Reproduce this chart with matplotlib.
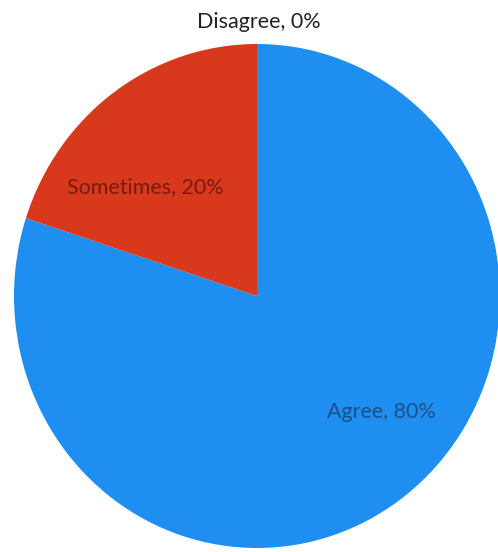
import matplotlib.pyplot as plt

# Данные
labels = ['Agree', 'Disagree', 'Sometimes']
values = [80, 0, 20]
colors = ['#1e8ff0', '#d8391c', '#d8391c']
text_colors = ['#1d4f8c', '#222222', '#7a1a10']

fig = plt.figure(figsize=(4.98, 5.52), dpi=100)
ax = fig.add_axes([0, 0, 1, 1])

# Круговая диаграмма: начинаем сверху, по часовой стрелке
wedges, _ = ax.pie(values, colors=colors, startangle=90, counterclock=False,
                   radius=1.0, wedgeprops=dict(linewidth=0))

# Подписи
pos = {'Agree': (0.51, -0.46), 'Disagree': (0.008, 1.087), 'Sometimes': (-0.461, 0.433)}
for lab, v, tc in zip(labels, values, text_colors):
    x, y = pos[lab]
    ax.text(x, y, f'{lab}, {v}%', ha='center', va='center', fontsize=15.5,
            color=tc, family='Lato')

# Немного вытянутый по вертикали круг, как на фото
ax.set_aspect('auto')
cx, cy, rx, ry = 257, 296, 243, 252
ax.set_xlim(-cx / rx, (498 - cx) / rx)
ax.set_ylim(-(552 - cy) / ry, cy / ry)
ax.axis('off')

fig.savefig('out.png', dpi=100)
